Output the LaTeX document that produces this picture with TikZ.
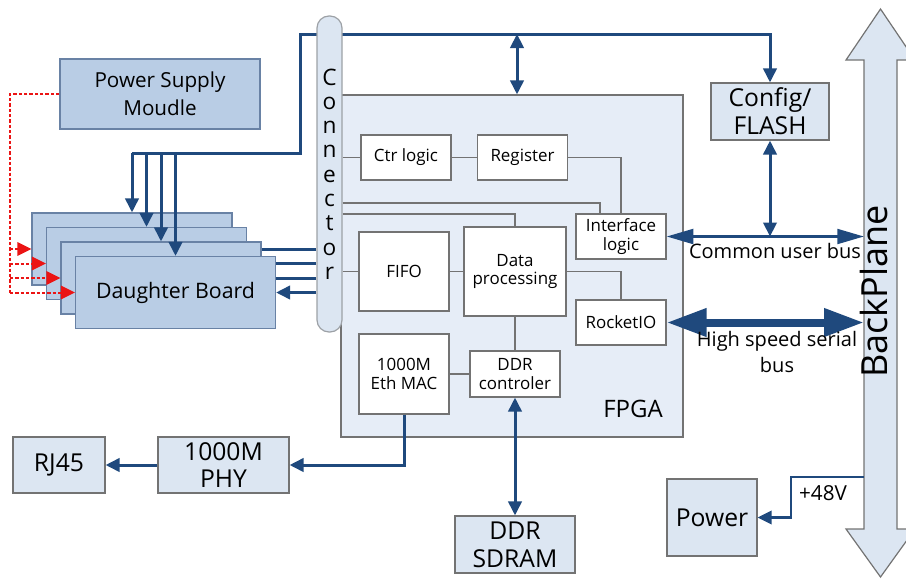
\documentclass[tikz,border=0pt]{standalone}
\usepackage{fontspec}
\setmainfont{Open Sans}
\usetikzlibrary{arrows.meta, positioning, calc, backgrounds}
\definecolor{busblue}{RGB}{31,73,125}
\definecolor{boardfill}{RGB}{185,205,229}
\definecolor{boardline}{RGB}{105,130,165}
\definecolor{lightfill}{RGB}{220,230,242}
\definecolor{fpgafill}{RGB}{230,237,247}
\definecolor{edgegray}{RGB}{115,115,115}
\definecolor{pwrred}{RGB}{235,20,20}
\tikzset{
  >={Triangle[length=10.5pt,width=10pt]},
  blk/.style={draw=edgegray, line width=0.9pt, inner sep=0pt, align=center},
  board/.style={blk, draw=boardline, fill=boardfill, minimum width=150pt, minimum height=54pt},
  lite/.style={blk, fill=lightfill, font=\fontsize{18.5}{21}\selectfont},
  fpgablk/.style={blk, fill=white, minimum width=67.5pt, font=\fontsize{12.7}{13.8}\selectfont},
  bus/.style={draw=busblue, line width=2.25pt},
  sig/.style={draw=edgegray, line width=0.9pt},
  pwrline/.style={draw=pwrred, line width=1.5pt, dash pattern=on 2.5pt off 1.5pt},
  cubtip/.style={{Triangle[length=20pt,width=11pt]}-{Triangle[length=20pt,width=11pt]}},
  hsbtip/.style={{Triangle[length=30pt,width=20pt]}-{Triangle[length=30pt,width=20pt]}}
}

\begin{document}
\begin{tikzpicture}[x=0.75pt, y=-0.75pt]
  \useasboundingbox (0,0) rectangle (906,579);
  \clip (0,0) rectangle (906,579);

  \node[blk, fill=fpgafill, minimum width=256.5pt, minimum height=256.5pt] (fpga) at (512,266) {};
  \node[font=\fontsize{18}{20}\selectfont] (fpgalabel) at (633,408.5) {FPGA};
  \node[fpgablk, minimum height=33.75pt] (ctr) at (406,157.5) {Ctr logic};
  \node[fpgablk, minimum height=33.75pt] (reg) at (522.5,157.5) {Register};
  \node[fpgablk, minimum height=33.75pt] (ifl) at (621,236.5) {Interface\\logic};
  \node[fpgablk, minimum height=59.25pt] (fifo) at (404,271.5) {FIFO};
  \node[fpgablk, minimum width=76.5pt, minimum height=66.75pt] (dp) at (515,271.5) {Data\\processing};
  \node[fpgablk, minimum height=33.75pt] (rio) at (621,322.5) {RocketIO};
  \node[fpgablk, minimum height=60pt] (mac) at (404,374) {1000M\\Eth MAC};
  \node[fpgablk, minimum height=34.5pt] (ddrc) at (515,374) {DDR\\controler};

  \node[blk, draw=edgegray!60!lightfill, fill=lightfill, minimum width=18.75pt, minimum height=237pt,
        rounded corners=9pt, font=\fontsize{17}{18.2}\selectfont] (conn) at (329.5,174)
        {C\\o\\n\\n\\e\\c\\t\\o\\r};

  \coordinate (j1) at (600,203);
  \coordinate (j2) at (515,214);
  \draw[sig] (ctr.west -| conn.east) -- (ctr.west);
  \draw[sig] (ctr.east) -- (reg.west);
  \draw[sig] (reg.east) -| (ifl.north);
  \draw[sig] (j1 -| conn.east) -- (j1) -- (j1 |- ifl.north);
  \draw[sig] (j2 -| conn.east) -- (j2) -- (dp.north);
  \draw[sig] (fifo.west -| conn.east) -- (fifo.west);
  \draw[sig] (fifo.east) -- (dp.west);
  \draw[sig] (dp.east) -| (rio.north);
  \draw[sig] (dp.south) -- (ddrc.north);
  \draw[sig] (mac.east) -- (ddrc.west);

  \node[blk, draw=boardline, fill=boardfill, minimum width=150pt, minimum height=52.5pt,
        font=\fontsize{15.5}{21}\selectfont] (psm) at (160,94) {Power Supply\\Moudle};
  \node[board] (db1) at (132,249) {};
  \node[board] (db2) at (146.5,263.5) {};
  \node[board] (db3) at (161,278) {};
  \node[board, font=\fontsize{16}{18}\selectfont] (db4) at (175.5,292.5) {Daughter Board};

  \node[lite, minimum width=88.5pt, minimum height=42.75pt] (cfg) at (770,111.5) {Config/\\FLASH};
  \node[lite, minimum width=69pt, minimum height=42pt] (rj) at (59,465) {RJ45};
  \node[lite, minimum width=98.25pt, minimum height=42pt, font=\fontsize{18.5}{20}\selectfont] (phy) at (223.5,465) {1000M\\PHY};
  \node[lite, minimum width=90pt, minimum height=42.75pt] (sdram) at (515,544.5) {DDR\\SDRAM};
  \node[lite, minimum width=67.5pt, minimum height=57.75pt] (pwr) at (712,517.5) {Power};

  \draw[draw=edgegray, fill=lightfill, line width=0.9pt]
    (880.5,9) -- (915,60) -- (897,60) -- (897,529) -- (915,529) -- (880.5,577)
    -- (846,529) -- (864,529) -- (864,60) -- (846,60) -- cycle;
  \node[rotate=90, font=\fontsize{27}{30}\selectfont] (bp) at (874,291.5) {BackPlane};
  \coordinate (bpw) at (864,0);

  \coordinate (tl) at (300,34);
  \coordinate (dbrail) at (300,153);
  \coordinate (fx) at (517,34);
  \begin{scope}[on background layer]
    \draw[bus,->] (dbrail -| db1.north) -- (dbrail) -- (tl) -| (cfg.north);
    \foreach \b in {db1,db2,db3,db4}
      \draw[bus,->] (\b.east -| conn.west) -- (\b.east);
  \end{scope}
  \foreach \b in {db1,db2,db3,db4}
    \draw[bus,->] (dbrail -| \b.north) -- (\b.north);
  \draw[bus,<->] (fx) -- (fx |- fpga.north);
  \draw[bus,<->] (cfg.south) -- (cfg.south |- ifl.east);
  \draw[bus,cubtip] (ifl.east) -- (ifl.east -| bpw);
  \draw[draw=busblue, line width=6pt, hsbtip] (rio.east) -- (rio.east -| bpw);
  \node[font=\fontsize{15}{19}\selectfont, anchor=base] (cublabel) at (775,258) {Common user bus};
  \node[font=\fontsize{15}{19}\selectfont, align=center] (hsblabel) at (777,352) {High speed serial\\bus};

  \coordinate (v48) at (864,477);
  \coordinate (v48b) at (791,477);
  \draw[bus, line width=1.9pt, ->] (v48) -- (v48b) |- (pwr.east);
  \node[font=\fontsize{15.5}{18}\selectfont] (v48label) at (823,493.5) {+48V};

  \draw[bus,->] (mac.south) |- (phy.east);
  \draw[bus,->] (phy.west) -- (rj.east);
  \draw[bus,<->] (ddrc.south) -- (sdram.north);

  \coordinate (rl) at (10,0);
  \draw[pwrline] (psm.west) -| (rl |- db4.west);
  \foreach \b in {db1,db2,db3,db4}
    \draw[pwrline,->] (rl |- \b.west) -- (\b.west);
\end{tikzpicture}
\end{document}
